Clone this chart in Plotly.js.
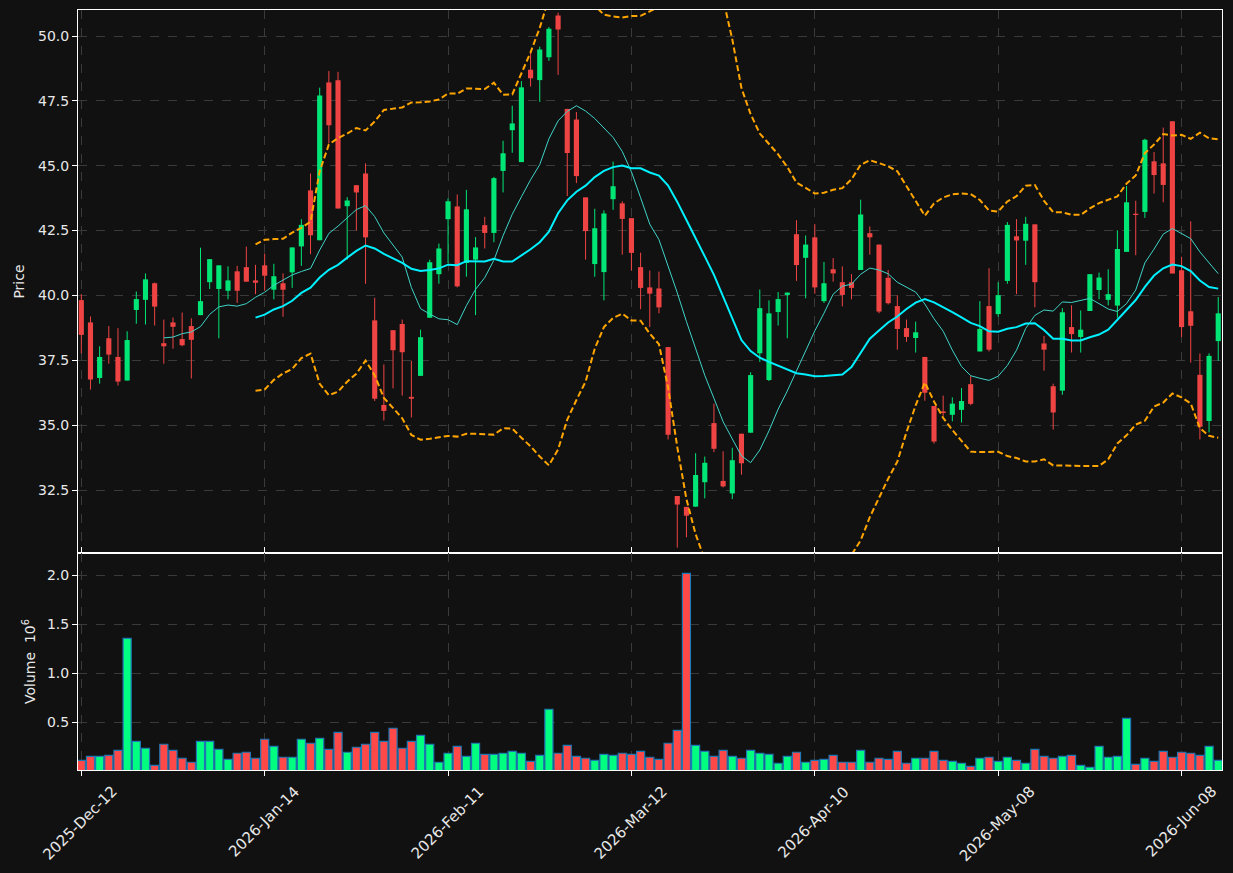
<!DOCTYPE html>
<html>
<head>
<meta charset="utf-8">
<script src="https://cdn.plot.ly/plotly-3.0.1.min.js"></script>
<style>
  html, body { margin: 0; padding: 0; background: #111111; }
  #chart { width: 1233px; height: 873px; }
</style>
</head>
<body>
<div id="chart"></div>
<script>
// ---- data ----
const tickIndex = [0, 20, 40, 60, 80, 100, 120];
const tickLabels = ["2025-Dec-12", "2026-Jan-14", "2026-Feb-11", "2026-Mar-12", "2026-Apr-10", "2026-May-08", "2026-Jun-08"];

const opens = [39.82,38.96,36.82,38.35,37.63,36.72,39.44,39.83,40.47,38.16,
38.96,38.32,38.82,39.24,40.51,40.25,40.18,40.93,41.09,40.58,
41.16,40.22,40.47,40.89,41.89,44.05,42.13,48.21,48.29,43.44,
44.25,44.70,39.04,35.78,38.66,38.90,36.09,36.90,39.14,40.82,
42.94,43.43,41.25,41.38,42.71,42.41,44.80,46.37,45.14,48.70,
48.30,49.18,50.79,47.19,46.78,43.78,41.21,40.90,43.71,43.55,
42.98,41.09,40.31,40.27,38.01,32.27,31.85,31.86,32.80,35.08,
32.85,32.37,34.67,34.71,37.77,36.74,39.36,40.02,42.36,41.45,
42.24,39.78,41.01,40.51,40.51,40.98,42.40,41.96,40.68,39.59,
38.74,38.36,37.63,35.74,35.53,35.40,35.59,36.58,37.84,39.59,
39.28,40.56,42.28,42.11,42.74,38.15,36.50,36.33,38.78,38.40,
39.40,40.21,39.83,39.61,41.68,43.15,43.22,45.17,45.09,46.71,
40.97,39.39,36.94,35.16,38.24];

const highs = [40.05,39.19,38.04,38.82,38.74,38.62,40.15,40.85,40.50,39.07,
39.15,39.34,39.12,41.84,41.40,41.16,41.12,41.14,41.88,41.18,
41.61,41.22,40.85,41.85,42.94,44.70,48.01,48.65,48.62,43.79,
44.25,45.09,39.91,37.34,38.66,39.07,37.48,38.68,41.38,42.00,
43.74,43.89,44.07,42.25,43.03,44.57,45.96,47.31,48.26,49.34,
49.59,50.35,50.90,47.19,47.07,43.78,43.34,43.28,45.16,43.63,
42.98,41.65,40.96,40.92,38.01,32.27,31.85,33.92,33.79,35.83,
33.99,34.13,34.67,37.04,40.23,39.81,40.13,40.11,42.90,42.31,
42.75,41.29,41.44,41.12,40.82,43.69,42.66,41.96,40.98,40.01,
39.07,38.99,37.63,35.74,36.14,36.07,36.43,36.90,39.78,41.05,
40.51,42.83,42.94,43.03,42.74,38.44,36.60,39.51,39.62,39.42,
40.82,40.88,41.01,42.51,44.22,43.65,46.04,45.53,46.47,46.71,
41.49,42.86,37.76,37.77,39.94];

const lows = [37.77,36.37,36.60,37.37,36.53,36.72,38.91,38.88,38.84,37.37,
37.95,38.04,36.80,39.24,40.25,38.35,39.85,39.71,40.53,40.05,
40.18,39.85,39.18,40.29,41.14,41.59,42.13,45.87,43.35,41.38,
42.50,40.45,35.93,35.18,36.42,36.14,35.30,36.90,39.14,40.45,
41.25,40.31,40.72,39.24,41.81,42.05,43.97,45.50,45.14,48.05,
47.46,49.04,48.50,43.83,44.33,41.38,40.72,39.81,43.30,41.57,
40.96,39.47,38.78,39.31,34.45,30.28,30.68,31.86,32.18,33.96,
32.60,32.15,33.09,34.71,37.44,36.70,38.84,38.35,40.56,39.89,
40.07,39.71,40.53,39.58,39.85,40.98,41.57,39.31,39.65,37.91,
38.21,37.80,35.94,34.29,35.36,35.15,35.10,35.77,37.84,37.84,
39.18,40.45,40.05,41.18,39.54,37.10,34.83,36.17,37.80,37.80,
39.40,39.85,39.62,39.14,41.68,41.55,42.99,43.93,43.59,40.85,
38.40,37.41,34.45,34.72,37.48];

const closes = [38.48,36.76,37.63,37.72,36.68,38.28,39.86,40.62,39.57,38.04,
38.79,38.08,38.29,39.78,41.40,41.16,40.58,40.18,40.53,40.49,
40.76,40.74,40.22,41.85,42.72,42.32,47.71,46.56,43.35,43.66,
43.97,42.24,36.02,35.55,37.89,37.81,36.02,38.39,41.28,41.81,
43.63,40.35,43.32,41.85,42.41,44.52,45.48,46.63,48.02,48.37,
49.48,50.28,50.25,45.49,44.60,42.48,42.59,43.16,44.21,42.95,
41.64,40.29,40.07,39.54,34.63,31.94,31.51,33.08,33.55,34.09,
32.64,33.65,33.53,36.93,39.51,39.31,39.86,40.11,41.17,41.96,
40.31,40.47,40.85,40.02,40.29,43.12,42.24,39.38,39.70,38.71,
38.40,38.58,36.25,34.37,35.47,35.83,35.93,35.82,38.71,37.91,
40.01,42.72,42.12,42.76,40.51,37.91,35.49,39.35,38.51,38.68,
40.82,40.69,40.05,41.79,43.59,43.10,46.00,44.64,44.26,40.85,
38.78,38.83,34.94,37.67,39.31];

const volumeMillions = [0.112,0.153,0.153,0.163,0.214,1.357,0.306,0.235,0.061,0.276,
0.214,0.133,0.092,0.306,0.306,0.224,0.122,0.184,0.194,0.133,
0.327,0.255,0.143,0.143,0.327,0.286,0.337,0.224,0.398,0.194,
0.245,0.276,0.398,0.306,0.439,0.235,0.306,0.367,0.276,0.092,
0.184,0.255,0.153,0.286,0.173,0.173,0.184,0.204,0.184,0.102,
0.163,0.633,0.184,0.265,0.153,0.133,0.112,0.173,0.163,0.184,
0.173,0.204,0.143,0.122,0.286,0.418,2.020,0.265,0.204,0.153,
0.214,0.153,0.133,0.214,0.184,0.173,0.082,0.153,0.194,0.092,
0.112,0.122,0.163,0.092,0.092,0.214,0.092,0.133,0.122,0.204,
0.082,0.133,0.133,0.204,0.112,0.102,0.082,0.051,0.133,0.143,
0.102,0.143,0.112,0.082,0.224,0.153,0.133,0.153,0.163,0.061,
0.041,0.255,0.143,0.153,0.541,0.071,0.133,0.102,0.204,0.143,
0.194,0.184,0.163,0.255,0.112];

// ---- derived ----
const N = closes.length;
const idx = closes.map((_, i) => i);
const isUp = closes.map((c, i) => c >= opens[i]);

function sma(arr, n) {
  return arr.map((_, i) => {
    if (i < n - 1) return null;
    let s = 0;
    for (let j = i - n + 1; j <= i; j++) s += arr[j];
    return s / n;
  });
}
function rollStd(arr, n) {
  const m = sma(arr, n);
  return arr.map((_, i) => {
    if (i < n - 1) return null;
    let s = 0;
    for (let j = i - n + 1; j <= i; j++) s += (arr[j] - m[i]) * (arr[j] - m[i]);
    return Math.sqrt(s / n);
  });
}
const ma10 = sma(closes, 10);
const ma20 = sma(closes, 20);
const sd20 = rollStd(closes, 20);
const bbUpper = ma20.map((m, i) => m === null ? null : m + 2 * sd20[i]);
const bbLower = ma20.map((m, i) => m === null ? null : m - 2 * sd20[i]);

// ---- styles ----
const UP = '#00e676', DOWN = '#ef4444';
const VUP = '#00ff80', VDOWN = '#ff4848';
const FONT = 'DejaVu Sans, Liberation Sans, sans-serif';
const TXT = '#e8e8e8';
const GRID = '#3a3a3a';

function wickTrace(up) {
  const xs = [], ys = [];
  for (let i = 0; i < N; i++) {
    if (isUp[i] !== up) continue;
    xs.push(idx[i], idx[i], null);
    ys.push(lows[i], highs[i], null);
  }
  return { type: 'scatter', mode: 'lines', x: xs, y: ys, xaxis: 'x', yaxis: 'y',
    line: { color: up ? UP : DOWN, width: 1 }, hoverinfo: 'skip', connectgaps: false };
}

const bodyBase = idx.map(i => Math.min(opens[i], closes[i]));
const bodyH = idx.map(i => Math.max(Math.abs(closes[i] - opens[i]), 0.04));

const traces = [
  wickTrace(true), wickTrace(false),
  { type: 'bar', x: idx, y: bodyH, base: bodyBase, width: 0.56, xaxis: 'x', yaxis: 'y',
    marker: { color: idx.map(i => isUp[i] ? UP : DOWN), line: { width: 0 } }, hoverinfo: 'skip' },
  { type: 'scatter', mode: 'lines', x: idx, y: ma10, xaxis: 'x', yaxis: 'y',
    line: { color: '#3fd4c8', width: 1 }, hoverinfo: 'skip' },
  { type: 'scatter', mode: 'lines', x: idx, y: ma20, xaxis: 'x', yaxis: 'y',
    line: { color: '#00f0ff', width: 2 }, hoverinfo: 'skip' },
  { type: 'scatter', mode: 'lines', x: idx, y: bbUpper, xaxis: 'x', yaxis: 'y',
    line: { color: '#ffa500', width: 2, dash: '6px,3px' }, hoverinfo: 'skip' },
  { type: 'scatter', mode: 'lines', x: idx, y: bbLower, xaxis: 'x', yaxis: 'y',
    line: { color: '#ffa500', width: 2, dash: '6px,3px' }, hoverinfo: 'skip' },
  { type: 'bar', x: idx, y: volumeMillions, width: 0.88, xaxis: 'x', yaxis: 'y2',
    marker: { color: idx.map(i => isUp[i] ? VUP : VDOWN), line: { color: '#1f77b4', width: 1.2 } },
    hoverinfo: 'skip' }
];

const axisCommon = {
  showline: true, linecolor: '#ffffff', linewidth: 1, mirror: true,
  ticks: 'outside', ticklen: 5, tickwidth: 1, tickcolor: '#ffffff',
  showgrid: true, gridcolor: GRID, gridwidth: 1, griddash: 'dash',
  zeroline: false,
  tickfont: { family: FONT, size: 14, color: TXT }
};

// rotated date labels, centred under each tick (as in the reference)
const dateAnnotations = tickIndex.map((t, k) => ({
  x: t, xref: 'x', y: 0, yref: 'paper', yanchor: 'top', xanchor: 'center',
  yshift: -10, xshift: -1, showarrow: false, textangle: -45,
  text: tickLabels[k], font: { family: FONT, size: 15, color: TXT }
}));

const layout = {
  width: 1233, height: 873,
  paper_bgcolor: '#111111', plot_bgcolor: '#111111',
  margin: { l: 78, r: 11, t: 10, b: 103, pad: 0 },
  showlegend: false,
  barmode: 'overlay',
  font: { family: FONT, size: 14, color: TXT },
  annotations: dateAnnotations,
  xaxis: Object.assign({}, axisCommon, {
    anchor: 'y2', range: [-0.36, 124.41], tickmode: 'array',
    tickvals: tickIndex, ticktext: tickLabels, showticklabels: false, mirror: 'all'
  }),
  yaxis: Object.assign({}, axisCommon, {
    domain: [0.2855, 1], anchor: 'x', range: [30.072, 51.002],
    tickmode: 'linear', tick0: 0, dtick: 2.5, tickformat: '.1f',
    title: { text: 'Price', font: { family: FONT, size: 14, color: TXT }, standoff: 10 }
  }),
  yaxis2: Object.assign({}, axisCommon, {
    domain: [0, 0.2855], anchor: 'x', range: [0.013, 2.228],
    tickmode: 'array', tickvals: [0.5, 1.0, 1.5, 2.0], tickformat: '.1f',
    title: { text: 'Volume  10<sup>6</sup>', font: { family: FONT, size: 14, color: TXT }, standoff: 8 }
  })
};

Plotly.newPlot('chart', traces, layout, { staticPlot: true, displayModeBar: false });
</script>
</body>
</html>
